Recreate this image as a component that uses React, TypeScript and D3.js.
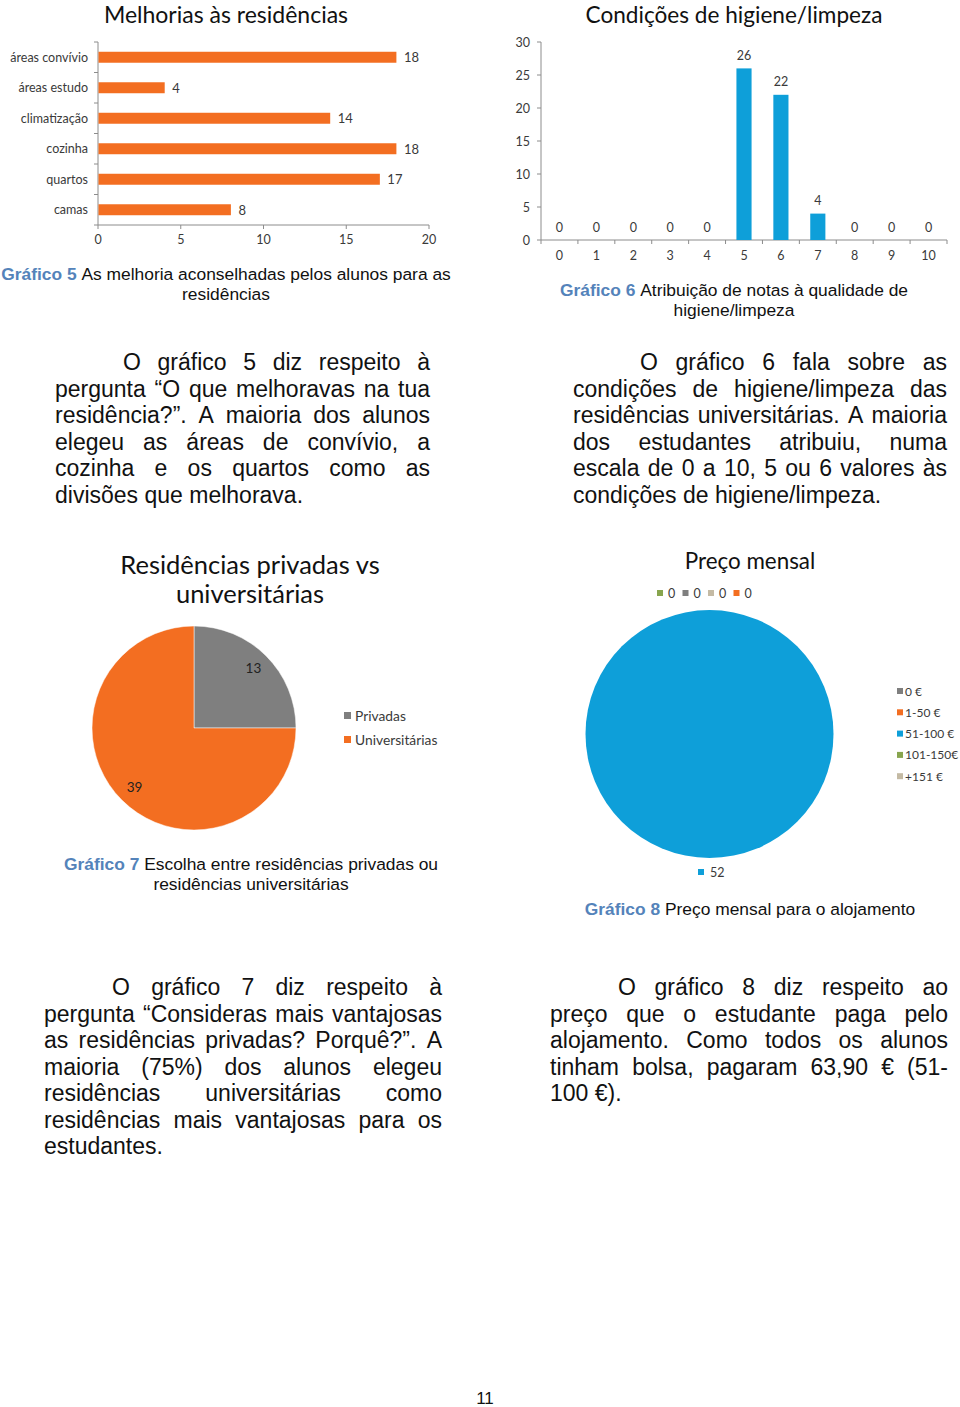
import React, { useMemo } from 'react';
import * as d3 from 'd3';

// ---------- DATA ----------
const improvementCategories = ['áreas convívio', 'áreas estudo', 'climatização', 'cozinha', 'quartos', 'camas'];
const improvementValues = [18, 4, 14, 18, 17, 8];
const improvementTicks = [0, 5, 10, 15, 20];

const gradeCategories = ['0', '1', '2', '3', '4', '5', '6', '7', '8', '9', '10'];
const gradeValues = [0, 0, 0, 0, 0, 26, 22, 4, 0, 0, 0];
const gradeTicks = [0, 5, 10, 15, 20, 25, 30];

const residenceCategories = ['Privadas', 'Universitárias'];
const residenceValues = [13, 39];

const priceCategories = ['0 €', '1-50 €', '51-100 €', '101-150€', '+151 €'];
const priceValues = [0, 0, 52, 0, 0];
const priceTopLabelOrder = ['101-150€', '0 €', '+151 €', '1-50 €'];

const para5 = [
  'O gráfico 5 diz respeito à',
  'pergunta “O que melhoravas na tua',
  'residência?”. A maioria dos alunos',
  'elegeu as áreas de convívio, a',
  'cozinha e os quartos como as',
  'divisões que melhorava.',
];
const para6 = [
  'O gráfico 6 fala sobre as',
  'condições de higiene/limpeza das',
  'residências universitárias. A maioria',
  'dos estudantes atribuiu, numa',
  'escala de 0 a 10, 5 ou 6 valores às',
  'condições de higiene/limpeza.',
];
const para7 = [
  'O gráfico 7 diz respeito à',
  'pergunta “Consideras mais vantajosas',
  'as residências privadas? Porquê?”. A',
  'maioria (75%) dos alunos elegeu',
  'residências universitárias como',
  'residências mais vantajosas para os',
  'estudantes.',
];
const para8 = [
  'O gráfico 8 diz respeito ao',
  'preço que o estudante paga pelo',
  'alojamento. Como todos os alunos',
  'tinham bolsa, pagaram 63,90 € (51-',
  '100 €).',
];

// ---------- STYLE ----------
const ORANGE = '#F36E21';
const BLUE = '#0E9FD9';
const GRAY = '#7F7F7F';
const GREEN = '#88A54E';
const TAN = '#C4BAA4';
const CAPBLUE = '#5483BA';
const AXIS = '#8C8C8C';
const TXT = '#3A3A3A';
const chartFont = 'Lato, "Open Sans", sans-serif';
const bodyFont = '"Liberation Sans", Arial, sans-serif';
const PARA_SIZE = 23;

const priceColors: Record<string, string> = {
  '0 €': GRAY,
  '1-50 €': ORANGE,
  '51-100 €': BLUE,
  '101-150€': GREEN,
  '+151 €': TAN,
};
const residenceColors = [GRAY, ORANGE];

let ctx: CanvasRenderingContext2D | null = null;
function measure(text: string, font: string) {
  if (!ctx) ctx = document.createElement('canvas').getContext('2d');
  ctx!.font = font;
  return ctx!.measureText(text).width;
}

function Paragraph({ lines, x0, x1, firstX, y0, lh }: { lines: string[]; x0: number; x1: number; firstX: number; y0: number; lh: number }) {
  const size = PARA_SIZE;
  const font = `${size}px "Liberation Sans", Arial, sans-serif`;
  const items = useMemo(() => {
    const out: { t: string; x: number; y: number }[] = [];
    lines.forEach((line, i) => {
      const y = y0 + i * lh;
      const start = i === 0 ? firstX : x0;
      if (i === lines.length - 1) {
        out.push({ t: line, x: start, y });
        return;
      }
      const words = line.split(' ');
      const widths = words.map((w) => measure(w, font));
      const total = widths.reduce((a, b) => a + b, 0);
      const gap = words.length > 1 ? (x1 - start - total) / (words.length - 1) : 0;
      let x = start;
      words.forEach((w, j) => {
        out.push({ t: w, x, y });
        x += widths[j] + gap;
      });
    });
    return out;
  }, [lines, x0, x1, firstX, y0, lh]);
  return (
    <g fontFamily={bodyFont} fontSize={size} fill="#111">
      {items.map((d, i) => (
        <text key={i} x={d.x} y={d.y} style={{ whiteSpace: 'pre' }}>
          {d.t}
        </text>
      ))}
    </g>
  );
}

function Caption({ num, lines, cx, y0 }: { num: string; lines: string[]; cx: number; y0: number }) {
  return (
    <g fontFamily={bodyFont} fontSize={17.4} fill="#111" textAnchor="middle">
      {lines.map((l, i) => (
        <text key={i} x={cx} y={y0 + i * 19.5}>
          {i === 0 && (
            <tspan fill={CAPBLUE} fontWeight="bold">
              {`Gráfico ${num} `}
            </tspan>
          )}
          {l}
        </text>
      ))}
    </g>
  );
}

function BarChart5() {
  const x = d3.scaleLinear().domain([0, 20]).range([98, 429]);
  const y = d3.scaleBand<string>().domain(improvementCategories).range([42, 225]).paddingInner(0.64).paddingOuter(0.32);
  const step = y.step();
  const [y0, y1] = y.range();
  return (
    <g fontFamily={chartFont}>
      <text x={226} y={22.5} textAnchor="middle" fontSize={23} fill="#111">
        Melhorias às residências
      </text>
      <line x1={98} x2={98} y1={y0} y2={y1} stroke={AXIS} />
      <line x1={98} x2={429} y1={y1} y2={y1} stroke={AXIS} />
      {d3.range(improvementCategories.length + 1).map((i) => (
        <line key={i} x1={94} x2={98} y1={y0 + i * step} y2={y0 + i * step} stroke={AXIS} />
      ))}
      {improvementTicks.map((t) => (
        <g key={t}>
          <line x1={x(t)} x2={x(t)} y1={y1} y2={y1 + 4} stroke={AXIS} />
          <text x={x(t)} y={y1 + 19} textAnchor="middle" fontSize={12.5} fill={TXT}>
            {t}
          </text>
        </g>
      ))}
      {improvementCategories.map((c, i) => (
        <g key={c}>
          <rect x={x(0) + 0.5} y={y(c)!} width={x(improvementValues[i]) - x(0)} height={y.bandwidth()} fill={ORANGE} />
          <text x={88} y={y(c)! + y.bandwidth() / 2 + 4.5} textAnchor="end" fontSize={12.5} fill={TXT}>
            {c}
          </text>
          <text x={x(improvementValues[i]) + 8} y={y(c)! + y.bandwidth() / 2 + 5} fontSize={13} fill={TXT}>
            {improvementValues[i]}
          </text>
        </g>
      ))}
    </g>
  );
}

function BarChart6() {
  const y = d3.scaleLinear().domain([0, 30]).range([240, 42]);
  const x = d3.scaleBand<string>().domain(gradeCategories).range([541, 947]).paddingInner(0.59).paddingOuter(0.295);
  const step = x.step();
  const [x0, x1] = x.range();
  return (
    <g fontFamily={chartFont}>
      <text x={734} y={22.5} textAnchor="middle" fontSize={22.6} fill="#111">
        Condições de higiene/limpeza
      </text>
      <line x1={x0} x2={x0} y1={y(30)} y2={y(0)} stroke={AXIS} />
      <line x1={x0} x2={x1} y1={y(0)} y2={y(0)} stroke={AXIS} />
      {gradeTicks.map((t) => (
        <g key={t}>
          <line x1={x0 - 4} x2={x0} y1={y(t)} y2={y(t)} stroke={AXIS} />
          <text x={530} y={y(t) + 4.5} textAnchor="end" fontSize={12.5} fill={TXT}>
            {t}
          </text>
        </g>
      ))}
      {d3.range(gradeCategories.length + 1).map((i) => (
        <line key={i} x1={x0 + i * step} x2={x0 + i * step} y1={y(0)} y2={y(0) + 4} stroke={AXIS} />
      ))}
      {gradeCategories.map((c, i) => {
        const cx = x(c)! + x.bandwidth() / 2;
        return (
          <g key={c}>
            <rect x={x(c)!} y={y(gradeValues[i])} width={x.bandwidth()} height={y(0) - y(gradeValues[i])} fill={BLUE} />
            <text x={cx} y={y(0) + 19.5} textAnchor="middle" fontSize={12.5} fill={TXT}>
              {c}
            </text>
            <text x={cx} y={y(gradeValues[i]) - 8.5} textAnchor="middle" fontSize={12.5} fill={TXT}>
              {gradeValues[i]}
            </text>
          </g>
        );
      })}
    </g>
  );
}

function Pie7() {
  const cx = 194;
  const cy = 728;
  const r = 102;
  const arcs = d3.pie<number>().sort(null)(residenceValues);
  const arc = d3.arc<d3.PieArcDatum<number>>().innerRadius(0).outerRadius(r);
  const labelArc = d3.arc<d3.PieArcDatum<number>>().innerRadius(168 - r).outerRadius(r);
  return (
    <g fontFamily={chartFont}>
      <text x={250} y={574} textAnchor="middle" fontSize={25.5} fill="#111">
        Residências privadas vs
      </text>
      <text x={250} y={603} textAnchor="middle" fontSize={25.5} fill="#111">
        universitárias
      </text>
      <g transform={`translate(${cx},${cy})`}>
        {arcs.map((a, i) => (
          <path key={i} d={arc(a)!} fill={residenceColors[i]} stroke="#fff" strokeWidth={0.5} />
        ))}
        {arcs.map((a, i) => {
          const [lx, ly] = labelArc.centroid(a);
          return (
            <text key={i} x={lx} y={ly + 4.5} textAnchor="middle" fontSize={13.5} fill="#222">
              {residenceValues[i]}
            </text>
          );
        })}
      </g>
      {residenceCategories.map((c, i) => (
        <g key={c}>
          <rect x={344} y={712 + i * 24} width={7} height={7} fill={residenceColors[i]} />
          <text x={355} y={720.5 + i * 24} fontSize={13.8} fill={TXT}>
            {c}
          </text>
        </g>
      ))}
    </g>
  );
}

function Pie8() {
  const cx = 709.5;
  const cy = 734;
  const r = 124;
  const arcs = d3.pie<number>().sort(null)(priceValues);
  const arc = d3.arc<d3.PieArcDatum<number>>().innerRadius(0).outerRadius(r);
  const nonZero = priceCategories.filter((_, i) => priceValues[i] > 0);
  return (
    <g fontFamily={chartFont}>
      <text x={750} y={569} textAnchor="middle" fontSize={22.4} fill="#111">
        Preço mensal
      </text>
      {priceTopLabelOrder.map((c, i) => (
        <g key={c}>
          <rect x={657 + i * 25.5} y={590} width={6} height={6} fill={priceColors[c]} />
          <text x={668 + i * 25.5} y={597.5} fontSize={12.5} fill={TXT}>
            {priceValues[priceCategories.indexOf(c)]}
          </text>
        </g>
      ))}
      <g transform={`translate(${cx},${cy})`}>
        {arcs.map((a, i) => (priceValues[i] > 0 ? <path key={i} d={arc(a)!} fill={priceColors[priceCategories[i]]} /> : null))}
      </g>
      {nonZero.map((c) => (
        <g key={c}>
          <rect x={698} y={869} width={6} height={6} fill={priceColors[c]} />
          <text x={710} y={876.5} fontSize={12.5} fill={TXT}>
            {priceValues[priceCategories.indexOf(c)]}
          </text>
        </g>
      ))}
      {priceCategories.map((c, i) => (
        <g key={c}>
          <rect x={897} y={688 + i * 21.3} width={6} height={6} fill={priceColors[c]} />
          <text x={905} y={695.5 + i * 21.3} fontSize={12} fill={TXT}>
            {c}
          </text>
        </g>
      ))}
    </g>
  );
}

export default function App() {
  return (
    <svg
      width={960}
      height={1407}
      viewBox="0 0 960 1407"
      style={{ position: 'absolute', left: 0, top: 0, background: '#fff' }}
    >
      <rect width={960} height={1407} fill="#fff" />
      <BarChart5 />
      <BarChart6 />
      <Caption num="5" lines={['As melhoria aconselhadas pelos alunos para as', 'residências']} cx={226} y0={280} />
      <Caption num="6" lines={['Atribuição de notas à qualidade de', 'higiene/limpeza']} cx={734} y0={296} />
      <Paragraph lines={para5} x0={55} x1={430} firstX={123} y0={370} lh={26.6} />
      <Paragraph lines={para6} x0={573} x1={947} firstX={640} y0={370} lh={26.6} />
      <Pie7 />
      <Pie8 />
      <Caption num="7" lines={['Escolha entre residências privadas ou', 'residências universitárias']} cx={251} y0={870} />
      <Caption num="8" lines={['Preço mensal para o alojamento']} cx={750} y0={915} />
      <Paragraph lines={para7} x0={44} x1={442} firstX={112} y0={995} lh={26.5} />
      <Paragraph lines={para8} x0={550} x1={948} firstX={618} y0={995} lh={26.5} />
      <text x={485} y={1404} textAnchor="middle" fontFamily={bodyFont} fontSize={17} fill="#111">
        11
      </text>
    </svg>
  );
}
